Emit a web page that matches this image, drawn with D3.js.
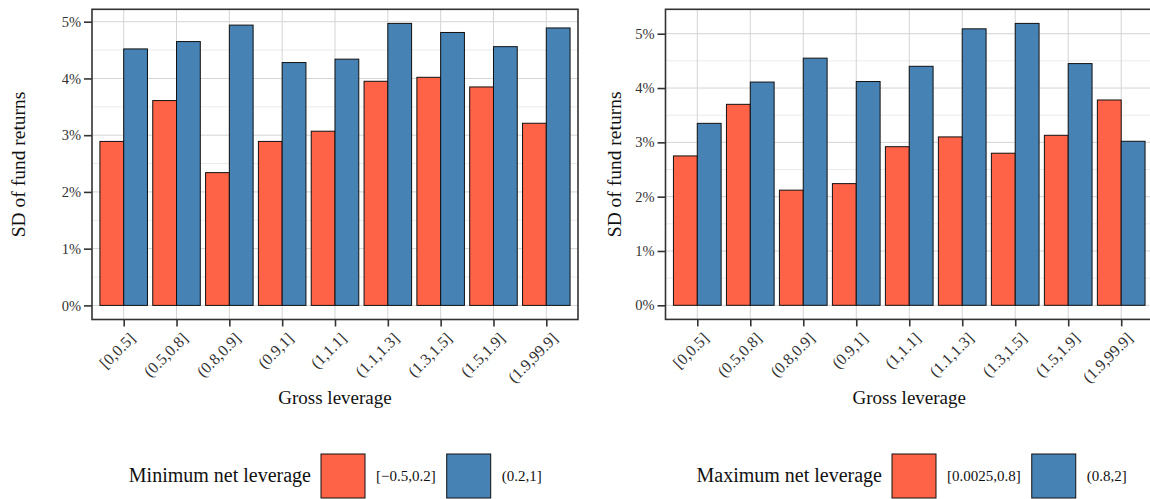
<!DOCTYPE html>
<html>
<head>
<meta charset="utf-8">
<script src="https://cdn.jsdelivr.net/npm/d3@7/dist/d3.min.js"></script>
<style>
  html, body { margin: 0; padding: 0; background: #fff; }
  svg { display: block; }
  text { font-family: "Liberation Serif", "DejaVu Serif", serif; }
</style>
</head>
<body>
<svg id="chart" width="1150" height="499"></svg>
<script>
// Gross leverage buckets shared by both panels
const categories = ["[0,0.5]", "(0.5,0.8]", "(0.8,0.9]", "(0.9,1]", "(1,1.1]",
                    "(1.1,1.3]", "(1.3,1.5]", "(1.5,1.9]", "(1.9,99.9]"];

// SD of fund returns (%) split by minimum net leverage
const minNetLabels = ["[\u22120.5,0.2]", "(0.2,1]"];
const minNetLow  = [2.89, 3.61, 2.34, 2.89, 3.07, 3.95, 4.02, 3.85, 3.21];
const minNetHigh = [4.52, 4.65, 4.94, 4.28, 4.34, 4.97, 4.81, 4.56, 4.89];

// SD of fund returns (%) split by maximum net leverage
const maxNetLabels = ["[0.0025,0.8]", "(0.8,2]"];
const maxNetLow  = [2.75, 3.70, 2.12, 2.24, 2.92, 3.10, 2.80, 3.13, 3.78];
const maxNetHigh = [3.35, 4.11, 4.55, 4.12, 4.40, 5.09, 5.19, 4.45, 3.02];

const yTicks = [0, 1, 2, 3, 4, 5];
const fillColors = ["#FF6347", "#4682B4"];

const svg = d3.select("#chart");

function drawPanel(opt) {
  const g = svg.append("g");
  const maxV = d3.max([...opt.low, ...opt.high]);
  const y = d3.scaleLinear()
    .domain([-0.05 * maxV, 1.05 * maxV])
    .range([opt.bottom, opt.top]);
  const x = d3.scalePoint()
    .domain(categories)
    .range([opt.left, opt.right])
    .padding(0.6);
  const step = x.step();
  const barW = step * 0.45;

  // minor grid
  const minor = d3.range(0.5, y.domain()[1], 1);
  g.selectAll(".minor").data(minor).join("line")
    .attr("x1", opt.left).attr("x2", opt.right)
    .attr("y1", d => y(d)).attr("y2", d => y(d))
    .attr("stroke", "#ebebeb").attr("stroke-width", 1);
  // major grid
  g.selectAll(".majorY").data(yTicks).join("line")
    .attr("x1", opt.left).attr("x2", opt.right)
    .attr("y1", d => y(d)).attr("y2", d => y(d))
    .attr("stroke", "#d4d4d4").attr("stroke-width", 1);
  g.selectAll(".majorX").data(categories).join("line")
    .attr("x1", d => x(d)).attr("x2", d => x(d))
    .attr("y1", opt.top).attr("y2", opt.bottom)
    .attr("stroke", "#d4d4d4").attr("stroke-width", 1);

  // bars
  const rows = categories.map((c, i) => ({ c, v: [opt.low[i], opt.high[i]] }));
  rows.forEach(r => {
    r.v.forEach((v, k) => {
      g.append("rect")
        .attr("x", x(r.c) - barW + k * barW)
        .attr("y", y(v))
        .attr("width", barW)
        .attr("height", y(0) - y(v))
        .attr("fill", fillColors[k])
        .attr("stroke", "#111")
        .attr("stroke-width", 1);
    });
  });

  // panel border
  g.append("rect")
    .attr("x", opt.left).attr("y", opt.top)
    .attr("width", opt.right - opt.left).attr("height", opt.bottom - opt.top)
    .attr("fill", "none").attr("stroke", "#333").attr("stroke-width", 1.6);

  // y axis
  const yAxis = d3.axisLeft(y).tickValues(yTicks).tickSize(8).tickPadding(3)
    .tickFormat(d => d + "%");
  const ya = g.append("g").attr("transform", `translate(${opt.left},0)`).call(yAxis);
  ya.select(".domain").remove();
  ya.selectAll(".tick line").attr("stroke", "#333").attr("stroke-width", 1.6);
  ya.selectAll(".tick text").attr("fill", "#333").attr("font-size", 14.5)
    .attr("font-family", "Liberation Serif");

  // x axis
  const xAxis = d3.axisBottom(x).tickSize(7).tickPadding(0);
  const xa = g.append("g").attr("transform", `translate(0,${opt.bottom})`).call(xAxis);
  xa.select(".domain").remove();
  xa.selectAll(".tick line").attr("stroke", "#333").attr("stroke-width", 1.6);
  xa.selectAll(".tick text")
    .attr("fill", "#333").attr("font-size", 16)
    .attr("font-family", "Liberation Serif")
    .attr("text-anchor", "end")
    .attr("dy", 0)
    .attr("transform", "translate(7,15) rotate(-45)");

  // axis titles
  svg.append("text")
    .attr("transform", `translate(${opt.yTitleX},${(opt.top + opt.bottom) / 2}) rotate(-90)`)
    .attr("text-anchor", "middle").attr("font-size", 19.5).attr("fill", "#111")
    .text("SD of fund returns");
  svg.append("text")
    .attr("x", (opt.left + opt.right) / 2).attr("y", 404)
    .attr("text-anchor", "middle").attr("font-size", 19).attr("fill", "#111")
    .text("Gross leverage");

  // legend
  const lg = svg.append("g");
  lg.append("text").attr("x", opt.legendX).attr("y", 482)
    .attr("font-size", 20).attr("fill", "#111").attr("text-anchor", "end")
    .text(opt.legendTitle);
  let cx = opt.legendX + 10;
  opt.labels.forEach((lab, k) => {
    lg.append("rect").attr("x", cx).attr("y", 454).attr("width", 44).attr("height", 44)
      .attr("fill", fillColors[k]).attr("stroke", "#111").attr("stroke-width", 1);
    const t = lg.append("text").attr("x", cx + 55).attr("y", 481)
      .attr("font-size", 15).attr("fill", "#111").text(lab);
    cx = cx + 55 + t.node().getComputedTextLength() + 11;
  });
}

drawPanel({
  left: 92, right: 578, top: 9.3, bottom: 319.5, yTitleX: 25,
  low: minNetLow, high: minNetHigh,
  legendTitle: "Minimum net leverage", labels: minNetLabels, legendX: 311
});
drawPanel({
  left: 665.5, right: 1153, top: 9.3, bottom: 319.4, yTitleX: 621,
  low: maxNetLow, high: maxNetHigh,
  legendTitle: "Maximum net leverage", labels: maxNetLabels, legendX: 882
});
</script>
</body>
</html>
